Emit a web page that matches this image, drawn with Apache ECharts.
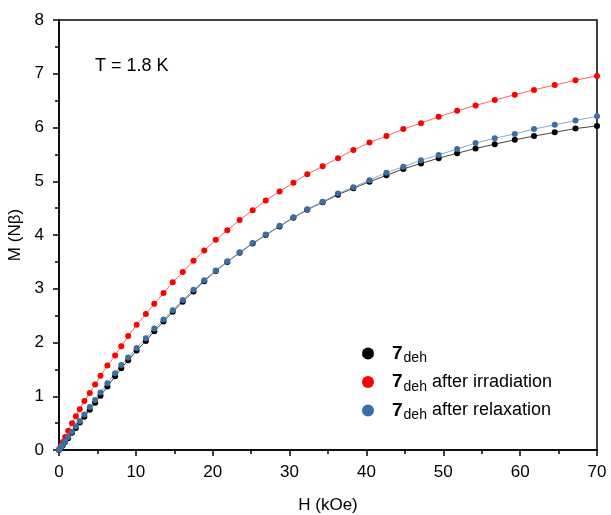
<!DOCTYPE html>
<html>
<head>
<meta charset="utf-8">
<script src="https://cdn.jsdelivr.net/npm/echarts@6/dist/echarts.min.js"></script>
<style>
html, body { margin: 0; padding: 0; background: #fff; }
#chart { width: 611px; height: 515px; }
</style>
</head>
<body>
<div id="chart"></div>
<script>
// field values (kOe), shared by the three runs
var fieldH = [0, 0.1, 0.3, 0.5, 0.8, 1.2, 1.7, 2.2, 2.7, 3.3, 4.0, 4.7, 5.4, 6.3, 7.3, 8.1, 9.0, 10.1, 11.3, 12.4,
  13.6, 14.8, 16.1, 17.5, 18.9, 20.4, 21.9, 23.5, 25.2, 26.9, 28.7, 30.5, 32.3, 34.3, 36.3, 38.3, 40.4, 42.6, 44.8,
  47.1, 49.4, 51.8, 54.2, 56.7, 59.3, 61.8, 64.5, 67.2, 70.0];

var mDeh = [0, 0.02, 0.05, 0.09, 0.15, 0.22, 0.32, 0.41, 0.51, 0.62, 0.75, 0.88, 1.01, 1.18, 1.37, 1.52, 1.67, 1.85, 2.03, 2.21,
  2.39, 2.57, 2.76, 2.95, 3.14, 3.33, 3.50, 3.67, 3.84, 4.00, 4.16, 4.32, 4.47, 4.61, 4.75, 4.87, 4.99, 5.11, 5.23,
  5.33, 5.43, 5.52, 5.61, 5.69, 5.77, 5.84, 5.91, 5.98, 6.03];

var mIrr = [0, 0.03, 0.09, 0.15, 0.24, 0.36, 0.50, 0.63, 0.76, 0.91, 1.06, 1.22, 1.38, 1.57, 1.76, 1.93, 2.12, 2.33, 2.53, 2.72,
  2.92, 3.12, 3.31, 3.52, 3.71, 3.91, 4.09, 4.28, 4.46, 4.64, 4.81, 4.97, 5.13, 5.28, 5.43, 5.58, 5.72, 5.84, 5.97,
  6.08, 6.20, 6.31, 6.41, 6.51, 6.61, 6.70, 6.79, 6.88, 6.96];

var mRel = [0, 0.02, 0.06, 0.10, 0.16, 0.24, 0.34, 0.44, 0.54, 0.66, 0.80, 0.93, 1.07, 1.24, 1.43, 1.58, 1.72, 1.90, 2.08, 2.26,
  2.43, 2.60, 2.79, 2.98, 3.16, 3.34, 3.51, 3.68, 3.85, 4.01, 4.17, 4.33, 4.48, 4.62, 4.77, 4.89, 5.02, 5.16, 5.27,
  5.39, 5.49, 5.60, 5.71, 5.80, 5.88, 5.97, 6.05, 6.13, 6.21];

var names = ['deh', 'irr', 'rel'];
var labels = {
  deh: '{b|7}{s|deh}',
  irr: '{b|7}{s|deh}{t| after irradiation}',
  rel: '{b|7}{s|deh}{t| after relaxation}'
};

function pairs(ys) {
  var out = [];
  for (var i = 0; i < fieldH.length; i++) out.push([fieldH[i], ys[i]]);
  return out;
}

function mkSeries(name, ys, dot, line) {
  return {
    name: name,
    type: 'line',
    data: pairs(ys),
    symbol: 'circle',
    symbolSize: 6,
    itemStyle: { color: dot },
    lineStyle: { color: line, width: 1 },
    emphasis: { disabled: true },
    animation: false
  };
}

var chart = echarts.init(document.getElementById('chart'));
var font = 'Liberation Sans, Arial, sans-serif';

chart.setOption({
  backgroundColor: '#fff',
  grid: {
    left: 59, right: 14, top: 20, bottom: 65,
    outerBoundsMode: 'none', containLabel: false,
    show: true, borderColor: '#000', borderWidth: 1.5
  },
  legend: {
    orient: 'vertical',
    left: 357, top: 339,
    itemGap: 7,
    itemWidth: 12, itemHeight: 12,
    icon: 'circle',
    data: names,
    formatter: function (n) { return labels[n]; },
    textStyle: {
      fontFamily: font, color: '#000',
      rich: {
        b: { fontSize: 19, fontWeight: 'bold', fontFamily: font, color: '#000', padding: [0, 0, 0, 13] },
        s: { fontSize: 14, fontFamily: font, color: '#000', padding: [10, 0, 0, 1] },
        t: { fontSize: 18, fontFamily: font, color: '#000' }
      }
    }
  },
  xAxis: {
    type: 'value', min: 0, max: 70, interval: 10,
    name: 'H (kOe)', nameLocation: 'middle', nameGap: 47,
    nameTextStyle: { fontFamily: font, fontSize: 17, color: '#000' },
    axisLine: { lineStyle: { color: '#000', width: 1.5 } },
    axisTick: { length: 6, lineStyle: { color: '#000', width: 1.5 } },
    minorTick: { show: true, splitNumber: 2, length: 4, lineStyle: { color: '#000', width: 1.5 } },
    axisLabel: { fontFamily: font, fontSize: 17, color: '#000', margin: 14 },
    splitLine: { show: false }
  },
  yAxis: {
    type: 'value', min: 0, max: 8, interval: 1,
    name: 'M (Nβ)', nameLocation: 'middle', nameGap: 33,
    nameTextStyle: { fontFamily: font, fontSize: 17, color: '#000' },
    axisLine: { lineStyle: { color: '#000', width: 1.5 } },
    axisTick: { length: 6, lineStyle: { color: '#000', width: 1.5 } },
    minorTick: { show: true, splitNumber: 2, length: 4, lineStyle: { color: '#000', width: 1.5 } },
    axisLabel: { fontFamily: font, fontSize: 17, color: '#000', margin: 15 },
    splitLine: { show: false }
  },
  graphic: [{
    type: 'text', left: 95, top: 57,
    style: { text: 'T = 1.8 K', font: '18px ' + font, fill: '#000' }
  }],
  series: [
    mkSeries('deh', mDeh, '#000000', '#444444'),
    mkSeries('irr', mIrr, '#ff0000', '#ff6060'),
    mkSeries('rel', mRel, '#3a6ea5', '#8aaad0')
  ]
});
</script>
</body>
</html>
